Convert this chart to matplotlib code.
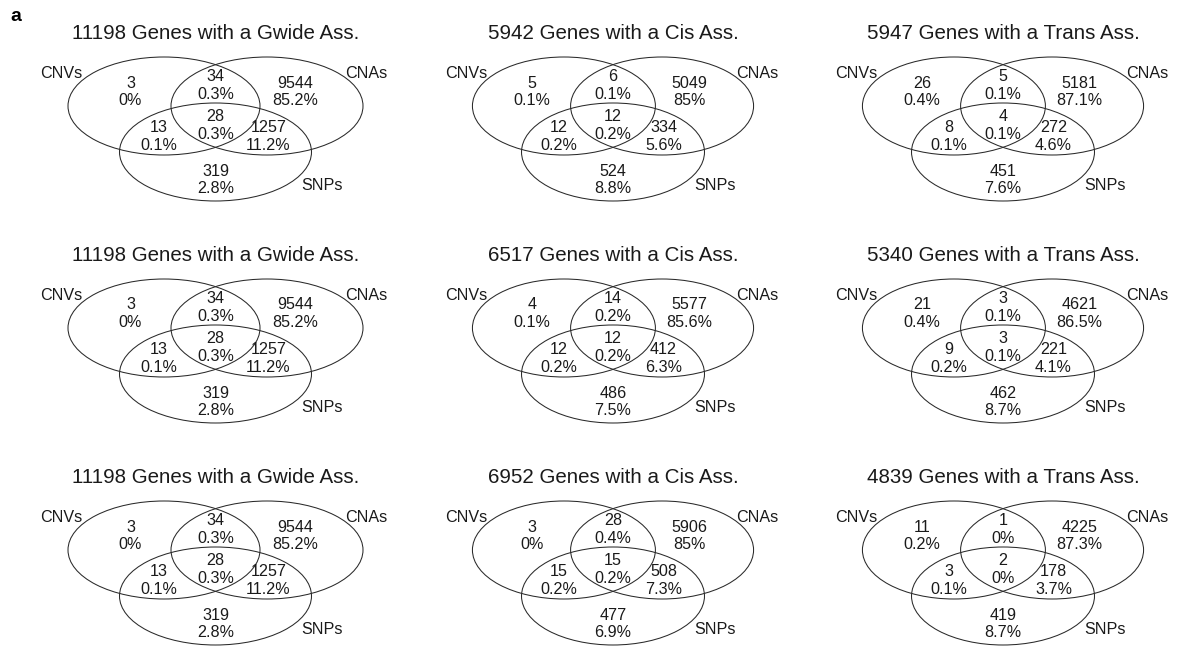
import matplotlib.pyplot as plt
from matplotlib.patches import Ellipse

plt.rcParams['font.family'] = ['Liberation Sans', 'DejaVu Sans']

set_names = ["CNVs", "CNAs", "SNPs"]
assoc_types = ["Gwide", "Cis", "Trans"]

# region order: CNVs only, CNVs&CNAs, CNAs only, CNVs&SNPs, all three, CNAs&SNPs, SNPs only
gwide_counts = [
    [3, 34, 9544, 13, 28, 1257, 319],
    [3, 34, 9544, 13, 28, 1257, 319],
    [3, 34, 9544, 13, 28, 1257, 319],
]
cis_counts = [
    [5, 6, 5049, 12, 12, 334, 524],
    [4, 14, 5577, 12, 12, 412, 486],
    [3, 28, 5906, 15, 15, 508, 477],
]
trans_counts = [
    [26, 5, 5181, 8, 4, 272, 451],
    [21, 3, 4621, 9, 3, 221, 462],
    [11, 1, 4225, 3, 2, 178, 419],
]

# panel geometry in pixels, relative to the centre of each diagram
W, H = 1178, 648
col_x = [215.5, 613, 1003]
col_scale = [1.0, 0.953, 0.953]
row_y = [129, 351, 573]
ax_w, ax_h = 380, 222

ell_centres = [(-51.5, -23), (51.5, -23), (0, 23)]
ell_w, ell_h = 192, 98
# (x, count baseline, percentage baseline) for each region
region_pos = [
    (-85, -41.5, -23.7),
    (0, -48, -30.3),
    (80, -41.5, -23.7),
    (-57, 3, 21),
    (0, -8, 10),
    (53, 3, 21),
    (0, 47, 64),
]
set_label_pos = [(-154, -50.7), (151, -50.7), (107, 61)]

num_size = 11.6
title_size = 14.8


def pct(n, total):
    return f"{round(100 * n / total, 1):g}%"


fig = plt.figure(figsize=(W / 100, H / 100), dpi=100)
fig.text(10 / W, 1 - 20.7 / H, "a", fontsize=14, fontweight="bold",
         ha="left", va="baseline")

panels = [gwide_counts, cis_counts, trans_counts]
for c, (kind, rows) in enumerate(zip(assoc_types, panels)):
    xs = col_scale[c]
    for r, counts in enumerate(rows):
        cx, cy = col_x[c], row_y[r]
        ax = fig.add_axes([(cx - ax_w / 2) / W, 1 - (cy + ax_h / 2) / H,
                           ax_w / W, ax_h / H])
        ax.set_xlim(-ax_w / 2 / xs, ax_w / 2 / xs)
        ax.set_ylim(ax_h / 2, -ax_h / 2)
        ax.axis("off")

        total = sum(counts)
        for (ex, ey) in ell_centres:
            ax.add_patch(Ellipse((ex, ey), ell_w, ell_h, fill=False,
                                 ec="#2a2a2a", lw=0.75, clip_on=False))
        for name, (lx, ly) in zip(set_names, set_label_pos):
            ax.text(lx, ly, name, fontsize=num_size, color="#1a1a1a",
                    ha="center", va="baseline")
        for n, (tx, y1, y2) in zip(counts, region_pos):
            ax.text(tx, y1, str(n), fontsize=num_size, color="#1a1a1a",
                    ha="center", va="baseline")
            ax.text(tx, y2, pct(n, total), fontsize=num_size, color="#1a1a1a",
                    ha="center", va="baseline")
        ax.text(0, -89.7, f"{total} Genes with a {kind} Ass.",
                fontsize=title_size, color="#1a1a1a", ha="center",
                va="baseline")

fig.savefig("out.png", dpi=100)
